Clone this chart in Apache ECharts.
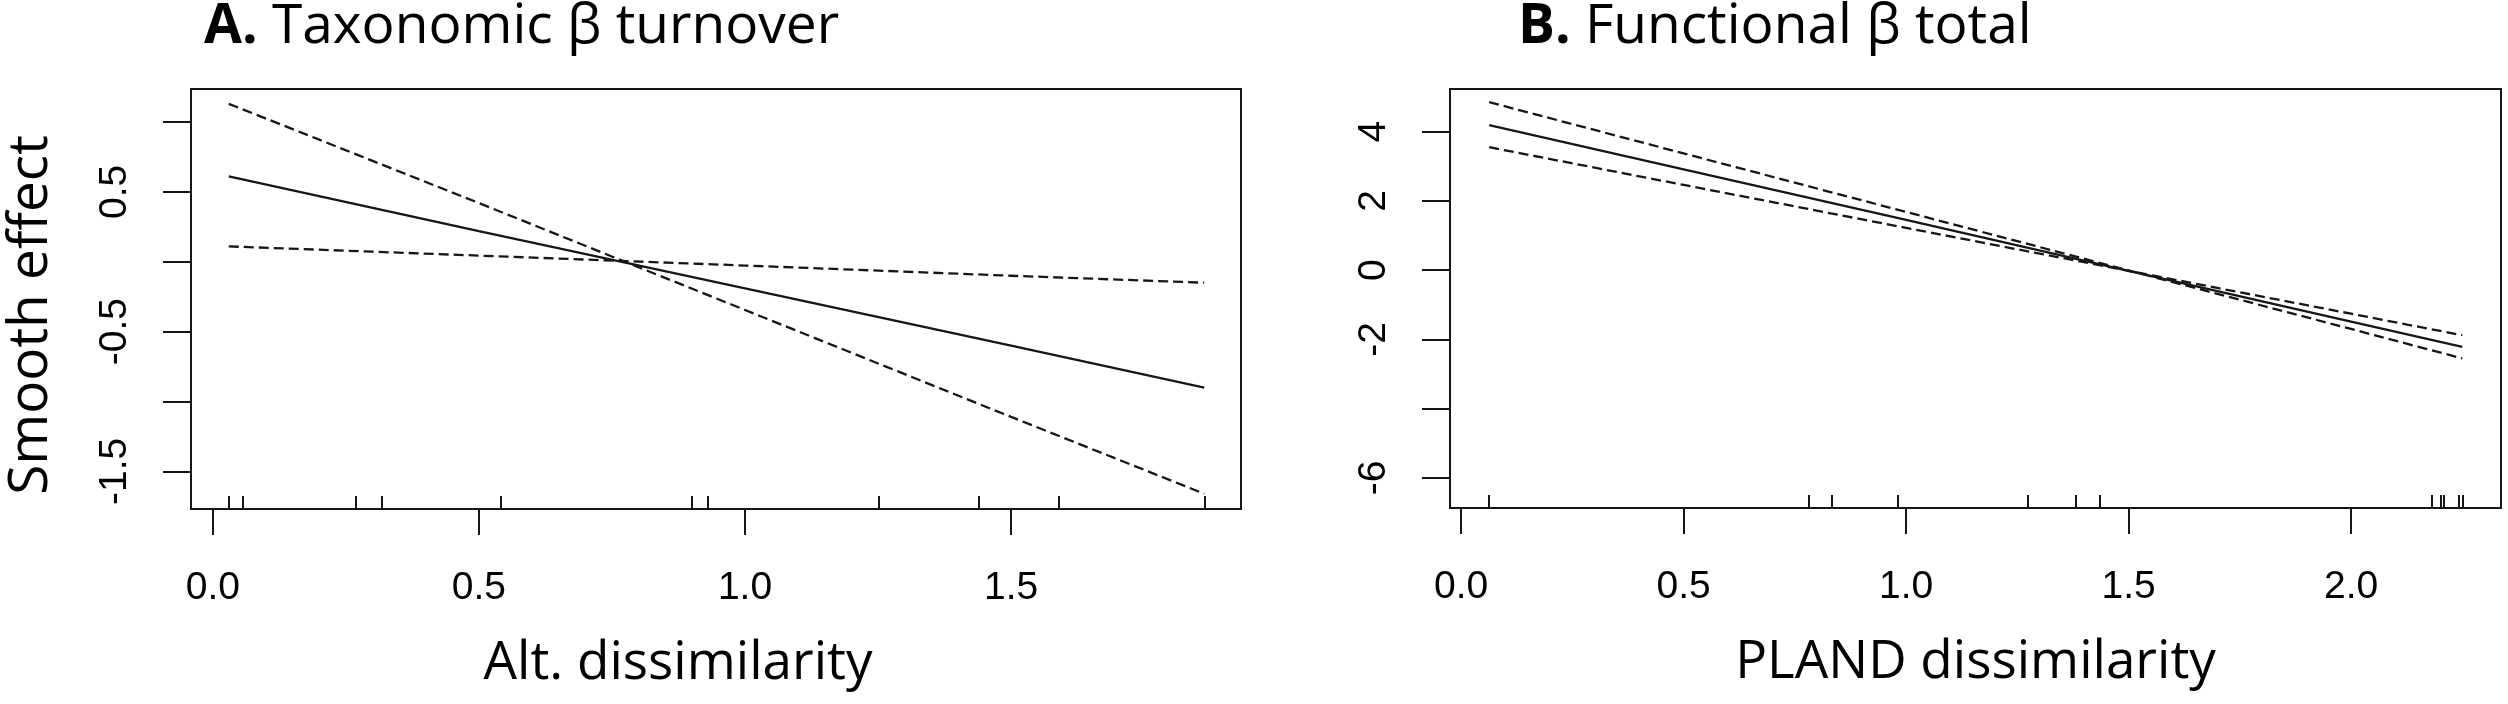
<!DOCTYPE html>
<html>
<head>
<meta charset="utf-8">
<script src="https://cdn.jsdelivr.net/npm/echarts@6/dist/echarts.min.js"></script>
<style>
  html, body { margin: 0; padding: 0; background: #fff; }
  #chart { width: 2508px; height: 704px; }
</style>
</head>
<body>
<div id="chart"></div>
<script>
// panel A: taxonomic beta turnover ~ altitude dissimilarity
const altX = [0.030, 0.5, 1.0, 1.5, 1.863];
const altFit = [0.61, 0.22, -0.19, -0.60, -0.90];
const altBandSteep = [1.13, 0.42, -0.345, -1.11, -1.66];
const altBandFlat = [0.11, 0.044, -0.027, -0.10, -0.15];
const altRug = [0.030, 0.056, 0.269, 0.318, 0.541, 0.900, 0.930, 1.252, 1.44, 1.59, 1.863];
const altXTicks = [0.0, 0.5, 1.0, 1.5];
const altYTicks = [-1.5, -1.0, -0.5, 0.0, 0.5, 1.0];
const altYLabels = [-1.5, -0.5, 0.5];

// panel B: functional beta total ~ PLAND dissimilarity
const plandX = [0.063, 0.5, 1.0, 1.5, 2.0, 2.25];
const plandFit = [4.19, 2.91, 1.45, -0.02, -1.49, -2.22];
const plandBandSteep = [4.85, 3.37, 1.68, -0.01, -1.70, -2.55];
const plandBandFlat = [3.55, 2.46, 1.22, -0.02, -1.26, -1.88];
const plandRug = [0.063, 0.781, 0.832, 0.981, 1.273, 1.382, 1.435, 2.182, 2.202, 2.209, 2.243, 2.252];
const plandXTicks = [0.0, 0.5, 1.0, 1.5, 2.0];
const plandYTicks = [-6, -4, -2, 0, 2, 4];
const plandYLabels = [-6, -2, 0, 2, 4];

const ink = '#161616';
const titleFont = 'Open Sans';
const tickFont = 'Liberation Sans';

const pairs = (xs, ys) => xs.map((x, i) => [x, ys[i]]);

const mainX = (grid, min, max, ticks, name, shift) => ({
    gridIndex: grid,
    type: 'value',
    position: 'bottom',
    min, max,
    name,
    nameLocation: 'middle',
    nameGap: 128,
    // R centred these under the plot, the editor nudged one of them
    nameTextStyle: {fontFamily: titleFont, fontSize: 53, color: '#000', padding: [0, shift || 0, 0, 0]},
    axisLine: {show: true, onZero: false, lineStyle: {color: ink, width: 2}},
    axisTick: {show: true, customValues: ticks, length: 26, lineStyle: {color: ink, width: 2}},
    axisLabel: {
        show: true, customValues: ticks, margin: 60,
        fontFamily: tickFont, fontSize: 39, color: '#000',
        formatter: v => v.toFixed(1)
    },
    splitLine: {show: false}
});

const rugX = (grid, min, max, rug) => ({
    gridIndex: grid,
    type: 'value',
    position: 'bottom',
    min, max,
    axisLine: {show: false, onZero: false},
    axisTick: {show: true, inside: true, customValues: rug, length: 13, lineStyle: {color: ink, width: 2}},
    axisLabel: {show: false},
    splitLine: {show: false}
});

const yAx = (grid, min, max, ticks, labels, digits, name) => ({
    gridIndex: grid,
    type: 'value',
    position: 'left',
    min, max,
    name: name || '',
    nameLocation: 'middle',
    nameRotate: 90,
    nameGap: 132,
    nameTextStyle: {fontFamily: titleFont, fontSize: 55, color: '#000', padding: [0, 32, 0, 0]},
    axisLine: {show: true, onZero: false, lineStyle: {color: ink, width: 2}},
    axisTick: {show: true, customValues: ticks, length: 28, lineStyle: {color: ink, width: 2}},
    axisLabel: {
        show: true, customValues: labels, rotate: 90, margin: 56,
        fontFamily: tickFont, fontSize: 39, color: '#000',
        formatter: v => v.toFixed(digits)
    },
    splitLine: {show: false}
});

const line = (name, xi, yi, xs, ys, dashed) => ({
    name,
    type: 'line',
    xAxisIndex: xi,
    yAxisIndex: yi,
    data: pairs(xs, ys),
    showSymbol: false,
    silent: true,
    animation: false,
    lineStyle: {color: ink, width: 2.3, type: dashed ? [10, 5] : 'solid'}
});

const panelTitle = (text, left) => ({
    text,
    left, top: -5,
    textStyle: {fontFamily: titleFont, fontSize: 55, fontWeight: 'normal', color: '#000',
        rich: {b: {fontFamily: titleFont, fontSize: 55, fontWeight: 'bold', color: '#000'}}}
});

const option = {
    backgroundColor: '#fff',
    animation: false,
    title: [
        panelTitle('{b|A.} Taxonomic β turnover', 199),
        panelTitle('{b|B.} Functional β total', 1513)
    ],
    grid: [
        {left: 191, top: 89, width: 1050, height: 420, show: true, borderColor: ink, borderWidth: 2, backgroundColor: 'transparent'},
        {left: 1450, top: 89, width: 1051, height: 419, show: true, borderColor: ink, borderWidth: 2, backgroundColor: 'transparent'}
    ],
    xAxis: [
        mainX(0, -0.041, 1.932, altXTicks, 'Alt. dissimilarity', 76),
        rugX(0, -0.041, 1.932, altRug),
        mainX(1, -0.025, 2.337, plandXTicks, 'PLAND dissimilarity', 0),
        rugX(1, -0.025, 2.337, plandRug)
    ],
    yAxis: [
        yAx(0, -1.769, 1.236, altYTicks, altYLabels, 1, 'Smooth effect'),
        yAx(1, -6.87, 5.23, plandYTicks, plandYLabels, 0)
    ],
    series: [
        line('alt fit', 0, 0, altX, altFit, false),
        line('alt band 1', 0, 0, altX, altBandSteep, true),
        line('alt band 2', 0, 0, altX, altBandFlat, true),
        line('pland fit', 2, 1, plandX, plandFit, false),
        line('pland band 1', 2, 1, plandX, plandBandSteep, true),
        line('pland band 2', 2, 1, plandX, plandBandFlat, true)
    ]
};

const myChart = echarts.init(document.getElementById('chart'));
myChart.setOption(option);
</script>
</body>
</html>
